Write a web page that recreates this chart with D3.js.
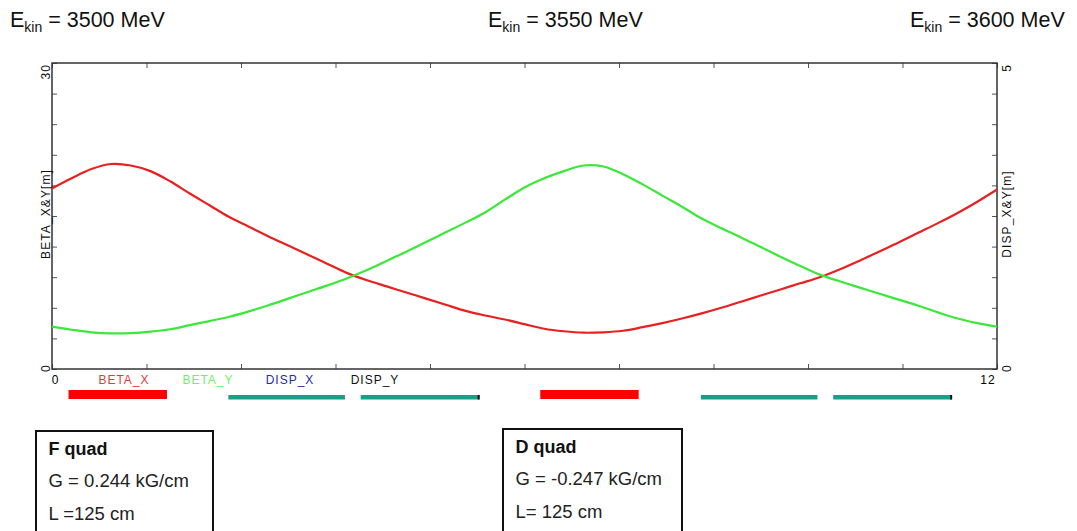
<!DOCTYPE html>
<html>
<head>
<meta charset="utf-8">
<script src="https://cdn.jsdelivr.net/npm/d3@7"></script>
<style>
  html, body { margin: 0; padding: 0; background: #fff; }
  svg { display: block; font-family: "Liberation Sans", Arial, sans-serif; }
</style>
</head>
<body>
<svg id="chart" width="1077" height="531"></svg>
<script>
// ---------- data ----------
const sPos = [0,0.25,0.5,0.75,1,1.25,1.5,1.75,2,2.25,2.5,2.75,3,3.25,3.5,3.75,4,4.25,4.5,4.75,5,5.25,5.5,5.75,6,6.25,6.5,6.75,7,7.25,7.5,7.75,8,8.25,8.5,8.75,9,9.25,9.5,9.75,10,10.25,10.5,10.75,11,11.25,11.5,11.75,12];
const betaX = [17.7,18.7,19.6,20.1,19.95,19.4,18.4,17.2,16.05,14.9,13.95,13.0,12.1,11.2,10.3,9.4,8.7,8.1,7.5,6.9,6.3,5.7,5.25,4.85,4.4,3.95,3.7,3.56,3.6,3.75,4.1,4.5,4.95,5.45,6.0,6.6,7.2,7.8,8.4,9.0,9.75,10.6,11.5,12.4,13.35,14.3,15.3,16.4,17.6];
const betaY = [4.15,3.85,3.6,3.5,3.52,3.66,3.9,4.3,4.7,5.12,5.65,6.25,6.9,7.55,8.2,8.9,9.7,10.6,11.5,12.45,13.4,14.35,15.35,16.6,17.8,18.7,19.4,19.95,19.85,19.1,18.1,17.0,15.9,14.75,13.8,12.9,11.95,11.0,10.1,9.25,8.6,8.0,7.4,6.8,6.2,5.55,4.95,4.5,4.15];

const quadStart = [0.21, 6.20];
const quadEnd   = [1.46, 7.45];
const dipoleStart = [2.24, 3.92, 8.24, 9.92];
const dipoleEnd   = [3.72, 5.43, 9.72, 11.43];

const xDomain = [0, 12];
const betaDomain = [0, 30];
const dispDomain = [0, 5];
const xTickValues = [0,1.2,2.4,3.6,4.8,6,7.2,8.4,9.6,10.8,12];
const betaTickValues = [0,3,6,9,12,15,18,21,24,27,30];
const dispTickValues = [0,0.5,1,1.5,2,2.5,3,3.5,4,4.5,5];

const legendNames = ["BETA_X","BETA_Y","DISP_X","DISP_Y"];
const titleEnergies = ["3500","3550","3600"];
const quadBoxes = [
  {title:"F quad", g:"G = 0.244 kG/cm", l:"L =125 cm"},
  {title:"D quad", g:"G = -0.247 kG/cm", l:"L= 125 cm"}
];

// ---------- layout ----------
const svg = d3.select("#chart");
const L = 52, R = 997, T = 63, B = 369;
const x = d3.scaleLinear().domain(xDomain).range([L, R]);
const yB = d3.scaleLinear().domain(betaDomain).range([B, T]);
const yD = d3.scaleLinear().domain(dispDomain).range([B, T]);

svg.append("rect").attr("width",1077).attr("height",531).attr("fill","#fff");

// titles
const titleX = [10, 488, 910];
titleEnergies.forEach((e,i)=>{
  const t = svg.append("text").attr("x", titleX[i]).attr("y", 27)
    .attr("font-size", 21.5).attr("fill", "#111");
  t.append("tspan").text("E");
  t.append("tspan").attr("font-size", 14).attr("dy", 5).text("kin");
  t.append("tspan").attr("dy", -5).text(" = " + e + " MeV");
});

// axes (ticks inward)
const tickCol = "#555";
const gBot = svg.append("g").attr("transform",`translate(0,${B})`)
  .call(d3.axisBottom(x).tickValues(xTickValues).tickSize(-5).tickFormat(""));
const gTop = svg.append("g").attr("transform",`translate(0,${T})`)
  .call(d3.axisTop(x).tickValues(xTickValues).tickSize(-5).tickFormat(""));
const gLeft = svg.append("g").attr("transform",`translate(${L},0)`)
  .call(d3.axisLeft(yB).tickValues(betaTickValues).tickSize(-5).tickFormat(""));
const gRight = svg.append("g").attr("transform",`translate(${R},0)`)
  .call(d3.axisRight(yD).tickValues(dispTickValues).tickSize(-5).tickFormat(""));
[gBot,gTop,gLeft,gRight].forEach(g=>{
  g.select(".domain").remove();
  g.selectAll(".tick line").attr("stroke", tickCol).attr("stroke-width", 1);
});

// frame
svg.append("rect").attr("x",L).attr("y",T).attr("width",R-L).attr("height",B-T)
  .attr("fill","none").attr("stroke","#333").attr("stroke-width",1.5);

// tick labels
svg.append("text").attr("x", x(xDomain[0]) + 3).attr("y", 384).attr("text-anchor","middle")
  .attr("font-size", 12).text(String(xDomain[0]));
svg.append("text").attr("x", x(xDomain[1]) - 9).attr("y", 384).attr("text-anchor","middle")
  .attr("font-size", 12).attr("letter-spacing", 1).text(String(xDomain[1]));

function vtext(px, py, txt, anchor){
  svg.append("text").attr("transform",`translate(${px},${py}) rotate(-90)`)
    .attr("text-anchor", anchor).attr("font-size", 12).attr("letter-spacing", 1.1)
    .attr("fill","#111").text(txt);
}
vtext(L-2, yB(betaDomain[1]) + 1, String(betaDomain[1]), "end");
vtext(L-2, yB(betaDomain[0]) - 1, String(betaDomain[0]), "middle");
vtext(L-2, (T+B)/2-2, "BETA_X&Y[m]", "middle");
vtext(R+14, yD(dispDomain[1]) + 1, String(dispDomain[1]), "end");
vtext(R+14, yD(dispDomain[0]) - 1, String(dispDomain[0]), "middle");
vtext(R+14, (T+B)/2-2, "DISP_X&Y[m]", "middle");

// curves
const line = (arr) => d3.line().x((d,i)=>x(sPos[i])).y((d)=>yB(d)).curve(d3.curveCatmullRom.alpha(0.5))(arr);
svg.append("path").attr("d", line(betaX)).attr("fill","none").attr("stroke","#e8201f").attr("stroke-width",2.2);
svg.append("path").attr("d", line(betaY)).attr("fill","none").attr("stroke","#3ae83a").attr("stroke-width",2.2);

// legend
const legendX = [124, 208, 290, 375];
const legendCol = ["#e03a3a","#6ef06a","#2a2aa8","#111"];
legendNames.forEach((n,i)=>{
  svg.append("text").attr("x", legendX[i]).attr("y", 384).attr("text-anchor","middle")
    .attr("font-size", 12).attr("letter-spacing", 1).attr("fill", legendCol[i]).text(n);
});

// lattice elements
quadStart.forEach((s,i)=>{
  svg.append("rect").attr("x", x(s)).attr("y", 390).attr("width", x(quadEnd[i]) - x(s)).attr("height", 9)
    .attr("fill","#ff0000");
});
dipoleStart.forEach((s,i)=>{
  svg.append("rect").attr("x", x(s)).attr("y", 395).attr("width", x(dipoleEnd[i]) - x(s)).attr("height", 4.5)
    .attr("fill","#15a088");
  if (i % 2 === 1) {
    svg.append("rect").attr("x", x(dipoleEnd[i]) - 2).attr("y", 395).attr("width", 2).attr("height", 4.5)
      .attr("fill","#111");
  }
});

// quad info boxes
const boxX = [36, 503], boxY = [431, 429], boxW = [177, 179];
quadBoxes.forEach((b,i)=>{
  svg.append("rect").attr("x", boxX[i]).attr("y", boxY[i]).attr("width", boxW[i]).attr("height", 140)
    .attr("fill","none").attr("stroke","#111").attr("stroke-width",2);
  const tx = boxX[i] + 12.5;
  svg.append("text").attr("x", tx).attr("y", boxY[i] + 23.5).attr("font-size", 18).attr("font-weight","bold")
    .attr("fill","#111").text(b.title);
  svg.append("text").attr("x", tx).attr("y", boxY[i] + 56).attr("font-size", 18.5).attr("fill","#222").text(b.g);
  svg.append("text").attr("x", tx).attr("y", boxY[i] + 89).attr("font-size", 18.5).attr("fill","#222").text(b.l);
});
</script>
</body>
</html>
